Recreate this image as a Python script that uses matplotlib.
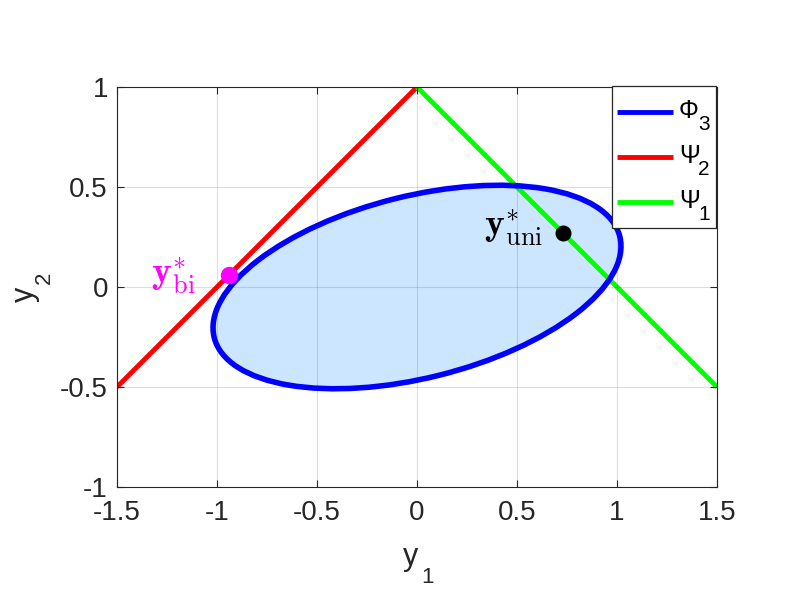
import matplotlib
matplotlib.use("Agg")
import matplotlib.pyplot as plt
from matplotlib.patches import Ellipse, Rectangle
from matplotlib.lines import Line2D
from matplotlib.transforms import Affine2D

plt.rcParams['font.family'] = ['Liberation Sans', 'DejaVu Sans']
plt.rcParams['mathtext.fontset'] = 'custom'
plt.rcParams['mathtext.rm'] = 'Liberation Sans'
plt.rcParams['mathtext.it'] = 'Liberation Sans'
plt.rcParams['mathtext.bf'] = 'Liberation Sans:bold'

# Data
ellipse_center = (0.0, 0.0)
ellipse_width = 2.09
ellipse_height = 0.91
ellipse_angle = 14.0

psi2_x = [-1.5, 0.0]
psi2_y = [-0.5, 1.0]
psi1_x = [0.0, 1.5]
psi1_y = [1.0, -0.5]

y_bi = (-0.94, 0.06)
y_uni = (0.73, 0.27)

xticks = [-1.5, -1, -0.5, 0, 0.5, 1, 1.5]
yticks = [-1, -0.5, 0, 0.5, 1]
xtick_labels = ['-1.5', '-1', '-0.5', '0', '0.5', '1', '1.5']
ytick_labels = ['-1', '-0.5', '0', '0.5', '1']

legend_names = [('\u03A6', '3'), ('\u03A8', '2'), ('\u03A8', '1')]
legend_colors = ['#0000ff', '#ff0000', '#00ff00']

W, H = 793, 595
fig = plt.figure(figsize=(W / 100, H / 100), dpi=100)
T = Affine2D().scale(1 / W, -1 / H).translate(0, 1) + fig.transFigure
ax = fig.add_axes([117 / W, 1 - 487 / H, 600 / W, 400 / H])

ax.add_patch(Ellipse(ellipse_center, ellipse_width, ellipse_height, angle=ellipse_angle,
                     facecolor=(0.8, 0.9, 1.0), edgecolor='none', zorder=1))
ax.add_patch(Ellipse(ellipse_center, ellipse_width, ellipse_height, angle=ellipse_angle,
                     facecolor='none', edgecolor=legend_colors[0], lw=4, zorder=3))
ax.plot(psi2_x, psi2_y, color=legend_colors[1], lw=3.5, zorder=2, solid_capstyle='butt')
ax.plot(psi1_x, psi1_y, color=legend_colors[2], lw=3.5, zorder=2, solid_capstyle='butt')

ax.plot([y_bi[0]], [y_bi[1]], 'o', color='#ff00ff', ms=11.5, zorder=5)
ax.plot([y_uni[0]], [y_uni[1]], 'o', color='black', ms=10.5, zorder=5)

ax.text(-1.11, 0.015, r'$\mathbf{y}^{*}_{\rm bi}$', color='#ff00ff',
        fontsize=27, ha='right', va='baseline', math_fontfamily='cm', zorder=6)
ax.text(0.63, 0.255, r'$\mathbf{y}^{*}_{\rm uni}$', color='black',
        fontsize=27, ha='right', va='baseline', math_fontfamily='cm', zorder=6)

ax.set_xlim(-1.5, 1.5)
ax.set_ylim(-1, 1)
ax.set_xticks(xticks)
ax.set_xticklabels(xtick_labels)
ax.set_yticks(yticks)
ax.set_yticklabels(ytick_labels)
ax.tick_params(direction='in', top=True, right=True, labelsize=20, length=5,
               color='#262626', labelcolor='#262626')
ax.tick_params(axis='x', pad=9.5)
ax.tick_params(axis='y', pad=6.5)
for s in ax.spines.values():
    s.set_color('#262626')
    s.set_linewidth(0.8)
ax.set_axisbelow(False)
ax.grid(True, color='#262626', alpha=0.15, lw=0.8)

# axis labels (MATLAB-style large subscripts)
lab_c = '#262626'
fig.text(403, 565, 'y', transform=T, fontsize=22, color=lab_c, ha='left', va='baseline')
fig.text(421, 583, '1', transform=T, fontsize=16, color=lab_c, ha='left', va='baseline')
fig.text(33, 302, 'y', transform=T, fontsize=22, color=lab_c, ha='left', va='baseline',
         rotation=90, rotation_mode='anchor')
fig.text(50, 284, '2', transform=T, fontsize=16, color=lab_c, ha='left', va='baseline',
         rotation=90, rotation_mode='anchor')

# legend
fig.add_artist(Rectangle((612, 86), 104, 142, transform=T, facecolor='white',
                         edgecolor='#262626', lw=0.9, zorder=5))
for i, ((main, sub), col) in enumerate(zip(legend_names, legend_colors)):
    base = 118 + 45 * i
    fig.add_artist(Line2D([617, 673], [base - 6, base - 6], transform=T, color=col,
                          lw=3.5, zorder=6, solid_capstyle='butt'))
    fig.text(679, base, main, transform=T, fontsize=18, color='black', ha='left',
             va='baseline', zorder=7)
    fig.text(698, base + 12, sub, transform=T, fontsize=15, color='black', ha='left',
             va='baseline', zorder=7)

fig.savefig('out.png', dpi=100)
